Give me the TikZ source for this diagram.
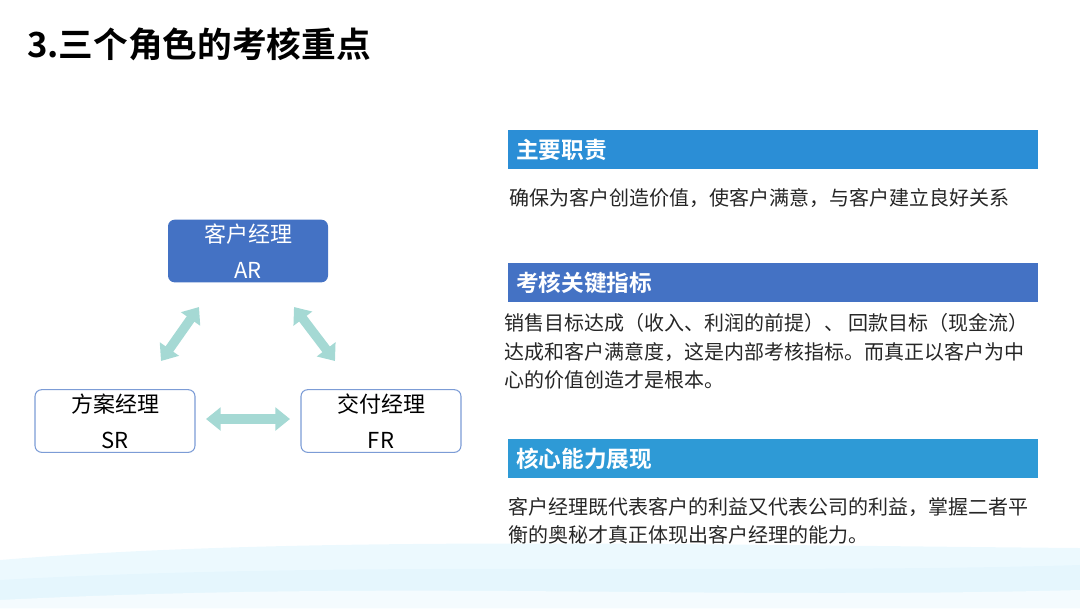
\documentclass[tikz,border=0pt]{standalone}
\usepackage{fontspec}
\setmainfont{Noto Sans CJK SC}
\newfontfamily\cjkb{Noto Sans CJK SC Bold}
\usetikzlibrary{arrows.meta}
\definecolor{barA}{HTML}{2B8ED6}
\definecolor{barB}{HTML}{4472C4}
\definecolor{barC}{HTML}{2E9AD6}
\definecolor{arr}{HTML}{A5D9D4}
\definecolor{txt}{HTML}{262626}
\begin{document}
\begin{tikzpicture}[x=0.75pt,y=-0.75pt,
  bar/.style={anchor=north west,minimum width=397.5pt,minimum height=29pt,inner sep=0pt,text=white,font=\cjkb\fontsize{17}{19}\selectfont,align=left,text width=397.5pt},
  body/.style={anchor=west,text=txt,font=\fontsize{15}{21.5}\selectfont,align=left,inner sep=0pt},
  role/.style={rounded corners=5pt,minimum width=120pt,minimum height=47pt,align=center,font=\fontsize{16.5}{27}\selectfont,inner sep=0pt},
  fat/.style={draw=arr,line width=7pt,{Triangle[width=17pt,length=11pt]}-{Triangle[width=17pt,length=11pt]}}]
\useasboundingbox (0,0) rectangle (1080,608);
% bottom wave
\fill[cyan!15,opacity=0.5] (0,560) .. controls (300,535) and (700,545) .. (1080,548) -- (1080,608) -- (0,608) -- cycle;
\fill[cyan!12,opacity=0.6] (0,580) .. controls (350,560) and (750,575) .. (1080,565) -- (1080,608) -- (0,608) -- cycle;
\fill[white,opacity=0.6] (0,600) .. controls (400,580) and (700,600) .. (1080,590) -- (1080,608) -- (0,608) -- cycle;
\node[anchor=west,font=\cjkb\fontsize{26}{28}\selectfont,text=black,inner sep=0pt] (title) at (27,44) {3.三个角色的考核重点};
% bars
\node[bar,fill=barA] (b1) at (508,130) {\hspace*{6pt}主要职责};
\node[body] (t1) at (509,198) {确保为客户创造价值，使客户满意，与客户建立良好关系};
\node[bar,fill=barB] (b2) at (508,263) {\hspace*{6pt}考核关键指标};
\node[body,anchor=north west] (t2) at (504,313) {销售目标达成（收入、利润的前提）、 回款目标（现金流）\\达成和客户满意度，这是内部考核指标。而真正以客户为中\\心的价值创造才是根本。};
\node[bar,fill=barC] (b3) at (508,439) {\hspace*{6pt}核心能力展现};
\node[body,anchor=north west] (t3) at (508,497) {客户经理既代表客户的利益又代表公司的利益，掌握二者平\\衡的奥秘才真正体现出客户经理的能力。};
% roles
\node[role,fill=barB,text=white] (AR) at (248,251) {客户经理\\AR};
\node[role,draw=barB!70,line width=0.8pt,fill=white,text=black] (SR) at (115,421) {方案经理\\SR};
\node[role,draw=barB!70,line width=0.8pt,fill=white,text=black] (FR) at (381,421) {交付经理\\FR};
\coordinate (a1) at (199,307); \coordinate (a2) at (161,361);
\coordinate (a3) at (294,307); \coordinate (a4) at (335,361);
\coordinate (a5) at (206,419); \coordinate (a6) at (290,419);
\draw[fat] (a1) -- (a2);
\draw[fat] (a3) -- (a4);
\draw[fat] (a5) -- (a6);
\end{tikzpicture}
\end{document}
